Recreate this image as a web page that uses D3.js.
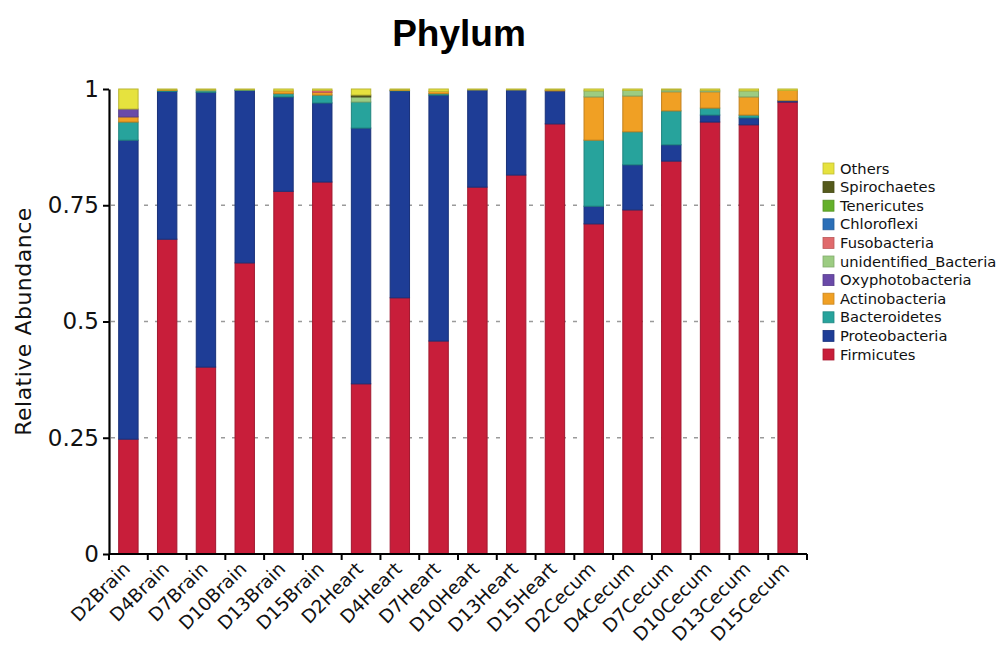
<!DOCTYPE html>
<html>
<head>
<meta charset="utf-8">
<script src="https://cdn.jsdelivr.net/npm/d3@7"></script>
<style>
  html, body { margin: 0; padding: 0; background: #fff; }
  svg { display: block; }
</style>
</head>
<body>
<svg id="chart" width="1003" height="648"></svg>
<script>
// Samples (x axis)
const samples = ["D2Brain","D4Brain","D7Brain","D10Brain","D13Brain","D15Brain",
  "D2Heart","D4Heart","D7Heart","D10Heart","D13Heart","D15Heart",
  "D2Cecum","D4Cecum","D7Cecum","D10Cecum","D13Cecum","D15Cecum"];

// Relative abundance of each phylum per sample
const firmicutes        = [0.247,0.677,0.402,0.626,0.780,0.800,0.366,0.551,0.458,0.789,0.815,0.925,0.710,0.740,0.845,0.929,0.923,0.972];
const proteobacteria    = [0.643,0.318,0.591,0.371,0.203,0.170,0.550,0.445,0.529,0.209,0.183,0.071,0.038,0.097,0.035,0.015,0.015,0.003];
const bacteroidetes     = [0.039,0.002,0.003,0.001,0.007,0.017,0.056,0.001,0.003,0.000,0.000,0.000,0.142,0.071,0.073,0.015,0.006,0.000];
const actinobacteria    = [0.011,0.001,0.000,0.000,0.006,0.006,0.000,0.001,0.005,0.000,0.000,0.002,0.093,0.077,0.041,0.035,0.039,0.022];
const oxyphotobacteria  = [0.017,0.000,0.000,0.000,0.000,0.000,0.000,0.000,0.000,0.000,0.000,0.000,0.000,0.000,0.000,0.000,0.000,0.000];
const unidentifiedBact  = [0.000,0.000,0.002,0.000,0.000,0.000,0.011,0.000,0.000,0.000,0.000,0.000,0.013,0.012,0.004,0.003,0.013,0.000];
const fusobacteria      = [0.000,0.000,0.000,0.000,0.000,0.004,0.000,0.000,0.000,0.000,0.000,0.000,0.000,0.000,0.000,0.000,0.000,0.000];
const chloroflexi       = [0.000,0.000,0.000,0.000,0.000,0.000,0.000,0.000,0.000,0.000,0.000,0.000,0.000,0.000,0.000,0.000,0.000,0.000];
const tenericutes       = [0.000,0.000,0.000,0.000,0.000,0.000,0.000,0.000,0.000,0.000,0.000,0.000,0.000,0.000,0.000,0.000,0.000,0.000];
const spirochaetes      = [0.000,0.000,0.000,0.000,0.000,0.000,0.004,0.000,0.000,0.000,0.000,0.000,0.000,0.000,0.000,0.000,0.000,0.000];
const others            = [0.043,0.002,0.002,0.002,0.004,0.003,0.013,0.002,0.005,0.002,0.002,0.002,0.004,0.003,0.002,0.003,0.004,0.003];

// Stack order, bottom to top
const phyla = ["Firmicutes","Proteobacteria","Bacteroidetes","Actinobacteria","Oxyphotobacteria",
  "unidentified_Bacteria","Fusobacteria","Chloroflexi","Tenericutes","Spirochaetes","Others"];
const series = [firmicutes, proteobacteria, bacteroidetes, actinobacteria, oxyphotobacteria,
  unidentifiedBact, fusobacteria, chloroflexi, tenericutes, spirochaetes, others];
const colors = ["#c81e3a","#1e3d96","#27a39c","#f0a024","#6a4aa8",
  "#9ccc82","#e06a6c","#2b6fb8","#64b02a","#555a1c","#e6e23e"];

const yTicks = [0, 0.25, 0.5, 0.75, 1];
const yTickLabels = ["0", "0.25", "0.5", "0.75", "1"];

const rows = samples.map((s, i) => {
  const r = { sample: s };
  phyla.forEach((p, k) => { r[p] = series[k][i]; });
  return r;
});

const svg = d3.select("#chart");
const plotLeft = 109, plotRight = 807, plotTop = 89, plotBottom = 554;

const x = d3.scaleBand().domain(samples).range([plotLeft, plotRight]).paddingInner(0.5).paddingOuter(0.25);
const y = d3.scaleLinear().domain([0, 1]).range([plotBottom, plotTop]);
const color = d3.scaleOrdinal().domain(phyla).range(colors);

// Title
svg.append("text")
  .attr("x", 459).attr("y", 46)
  .attr("text-anchor", "middle")
  .style("font-family", "'Liberation Sans', Arial, sans-serif")
  .style("font-weight", "bold")
  .style("font-size", "37px")
  .text("Phylum");

// Dashed gridlines
svg.append("g")
  .selectAll("line")
  .data([0.25, 0.5, 0.75])
  .join("line")
  .attr("x1", plotLeft + 2).attr("x2", plotRight - 6)
  .attr("y1", d => y(d)).attr("y2", d => y(d))
  .attr("stroke", "#9a9a9a")
  .attr("stroke-width", 1.5)
  .attr("stroke-dasharray", "4,7");

// Stacked bars
const stacked = d3.stack().keys(phyla)(rows);
svg.append("g")
  .selectAll("g")
  .data(stacked)
  .join("g")
  .attr("fill", d => color(d.key))
  .attr("stroke", d => d3.color(color(d.key)).darker(0.6))
  .attr("stroke-width", 1)
  .selectAll("rect")
  .data(d => d.filter(v => v[1] - v[0] > 0))
  .join("rect")
  .attr("x", d => x(d.data.sample))
  .attr("width", x.bandwidth())
  .attr("y", d => y(d[1]))
  .attr("height", d => y(d[0]) - y(d[1]));

// Y axis
const yAxis = svg.append("g")
  .attr("transform", `translate(${plotLeft},0)`)
  .call(d3.axisLeft(y).tickValues(yTicks).tickFormat((d, i) => yTickLabels[i]).tickSize(6).tickSizeOuter(0));
yAxis.select(".domain").attr("stroke", "#000").attr("stroke-width", 2.2);
yAxis.selectAll(".tick line").attr("stroke", "#000").attr("stroke-width", 2);
yAxis.selectAll(".tick text")
  .attr("x", -10)
  .style("font-family", "'DejaVu Sans', sans-serif")
  .style("font-size", "23px")
  .attr("fill", "#111");

// X axis with ticks at band boundaries
const half = (x.step() - x.bandwidth()) / 2;
const bounds = samples.map(s => x(s) - half).concat([x(samples[samples.length - 1]) + x.bandwidth() + half]);
const xAxis = svg.append("g");
xAxis.append("line")
  .attr("x1", plotLeft).attr("x2", plotRight)
  .attr("y1", plotBottom).attr("y2", plotBottom)
  .attr("stroke", "#000").attr("stroke-width", 2.2);
xAxis.selectAll("line.tk")
  .data(bounds)
  .join("line")
  .attr("class", "tk")
  .attr("x1", d => d).attr("x2", d => d)
  .attr("y1", plotBottom).attr("y2", plotBottom + 6)
  .attr("stroke", "#000").attr("stroke-width", 2);
xAxis.selectAll("text")
  .data(samples)
  .join("text")
  .attr("transform", d => `translate(${x(d) + x.bandwidth() / 2 + 3},${plotBottom + 16}) rotate(-45)`)
  .attr("text-anchor", "end")
  .style("font-family", "'DejaVu Sans', sans-serif")
  .style("font-size", "18.5px")
  .attr("fill", "#111")
  .text(d => d);

// Y axis title
svg.append("text")
  .attr("transform", `translate(31,${(plotTop + plotBottom) / 2}) rotate(-90)`)
  .attr("text-anchor", "middle")
  .style("font-family", "'DejaVu Sans', sans-serif")
  .style("font-size", "22px")
  .style("letter-spacing", "0.5px")
  .attr("fill", "#111")
  .text("Relative Abundance");

// Legend, top entry is the top of the stack
const legendItems = phyla.slice().reverse();
const legend = svg.append("g").attr("transform", "translate(823,163)");
const li = legend.selectAll("g")
  .data(legendItems)
  .join("g")
  .attr("transform", (d, i) => `translate(0,${i * 18.6})`);
li.append("rect")
  .attr("width", 11).attr("height", 11)
  .attr("fill", d => color(d))
  .attr("stroke", d => d3.color(color(d)).darker(0.5))
  .attr("stroke-width", 0.8);
li.append("text")
  .attr("x", 17).attr("y", 5.5)
  .attr("dy", "0.35em")
  .style("font-family", "'DejaVu Sans', sans-serif")
  .style("font-size", "14.7px")
  .attr("fill", "#111")
  .text(d => d);
</script>
</body>
</html>
